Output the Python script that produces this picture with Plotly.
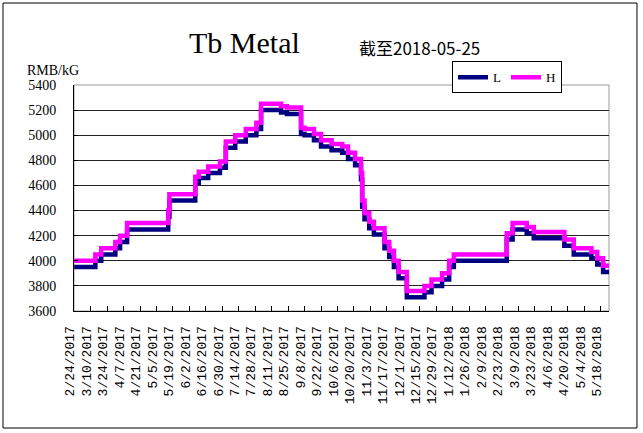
import plotly.graph_objects as go

# ---- data ----
dates = [
    "2017-02-24", "2017-03-14", "2017-03-19", "2017-03-31", "2017-04-04", "2017-04-10",
    "2017-05-15", "2017-05-16", "2017-06-07", "2017-06-10", "2017-06-18", "2017-06-28",
    "2017-07-03", "2017-07-11", "2017-07-20", "2017-07-29", "2017-08-02", "2017-08-19",
    "2017-08-24", "2017-09-05", "2017-09-08", "2017-09-16", "2017-09-22", "2017-10-01",
    "2017-10-10", "2017-10-15", "2017-10-21", "2017-10-26", "2017-10-27", "2017-10-29",
    "2017-11-02", "2017-11-06", "2017-11-15", "2017-11-19", "2017-11-23", "2017-11-27",
    "2017-12-04", "2017-12-19", "2017-12-25", "2018-01-03", "2018-01-09", "2018-01-13",
    "2018-02-27", "2018-03-04", "2018-03-16", "2018-03-22", "2018-04-17", "2018-04-25",
    "2018-05-10", "2018-05-15", "2018-05-20", "2018-05-25",
]
price_high = [
    4000, 4050, 4100, 4150, 4200, 4300,
    4400, 4530, 4670, 4710, 4750, 4790,
    4950, 5000, 5050, 5100, 5250, 5230,
    5220, 5060, 5050, 5010, 4960, 4930,
    4910, 4860, 4810, 4700, 4480, 4380,
    4310, 4260, 4150, 4080, 4000, 3910,
    3760, 3800, 3850, 3900, 4000, 4050,
    4220, 4300, 4270, 4230, 4170, 4100,
    4070, 4020, 3960, 3960,
]
price_low = [
    3950, 4000, 4050, 4100, 4150, 4250,
    4350, 4480, 4620, 4660, 4700, 4740,
    4900, 4950, 5000, 5050, 5200, 5180,
    5170, 5010, 5000, 4960, 4910, 4880,
    4860, 4810, 4760, 4650, 4430, 4330,
    4260, 4210, 4100, 4030, 3950, 3860,
    3710, 3750, 3800, 3850, 3950, 4000,
    4170, 4250, 4220, 4180, 4120, 4050,
    4020, 3970, 3910, 3910,
]
y_ticks = [3600, 3800, 4000, 4200, 4400, 4600, 4800, 5000, 5200, 5400]
title_text = "Tb Metal"
subtitle_text = "截至2018-05-25"
unit_text = "RMB/kG"

fig = go.Figure()
fig.add_trace(go.Scatter(x=dates, y=price_low, name="L", mode="lines",
                         line=dict(color="#000080", width=4.5, shape="hv")))
fig.add_trace(go.Scatter(x=dates, y=price_high, name="H", mode="lines",
                         line=dict(color="#FF00FF", width=4.5, shape="hv")))

fig.update_layout(
    width=643, height=433,
    margin=dict(l=74, r=34, t=85, b=122),
    paper_bgcolor="white", plot_bgcolor="white",
    showlegend=True,
    legend=dict(orientation="h", x=0.7065, xanchor="left", y=1.105, yanchor="top",
                bgcolor="white", bordercolor="black", borderwidth=1,
                font=dict(family="Liberation Serif", size=13, color="black"),
                itemwidth=30, tracegroupgap=0),
    xaxis=dict(type="date", range=["2017-02-23 20:00", "2018-05-25"],
               tick0="2017-02-24", dtick=14 * 86400000, tickformat="%-m/%-d/%Y",
               tickangle=-90, ticks="inside", ticklen=5, tickcolor="black",
               showline=True, linecolor="black", linewidth=1, showgrid=False,
               ticklabelstandoff=9, ticklabelshift=-4,
               tickfont=dict(family="Liberation Mono", size=13, color="black")),
    yaxis=dict(range=[3600, 5400], tickvals=y_ticks, ticks="inside", ticklen=4,
               tickcolor="black", showline=True, linecolor="black", linewidth=1,
               showgrid=True, gridcolor="#222222", gridwidth=1, zeroline=False,
               ticklabelstandoff=14,
               tickfont=dict(family="Liberation Serif", size=14, color="black")),
    shapes=[
        dict(type="rect", xref="paper", yref="paper", x0=0, x1=1, y0=0, y1=1,
             line=dict(color="#999999", width=1), layer="below"),
        dict(type="rect", xref="paper", yref="paper", x0=-0.1327, x1=1.0523,
             y0=-0.5177, y1=1.3628, line=dict(color="black", width=1)),
    ],
    annotations=[
        dict(text=title_text, xref="paper", yref="paper", x=0.3196, y=1.19,
             xanchor="center", yanchor="middle", showarrow=False,
             font=dict(family="Liberation Serif", size=30, color="black")),
        dict(text=subtitle_text, xref="paper", yref="paper", x=0.645, y=1.164,
             xanchor="center", yanchor="middle", showarrow=False,
             font=dict(family="Noto Sans CJK SC", size=17, color="black")),
        dict(text=unit_text, xref="paper", yref="paper", x=-0.0916, y=1.064,
             xanchor="left", yanchor="middle", showarrow=False,
             font=dict(family="Liberation Serif", size=14, color="black")),
    ],
)

fig.write_html("out.html", config={"displayModeBar": False},
               post_script="document.body.style.margin='0px';")
